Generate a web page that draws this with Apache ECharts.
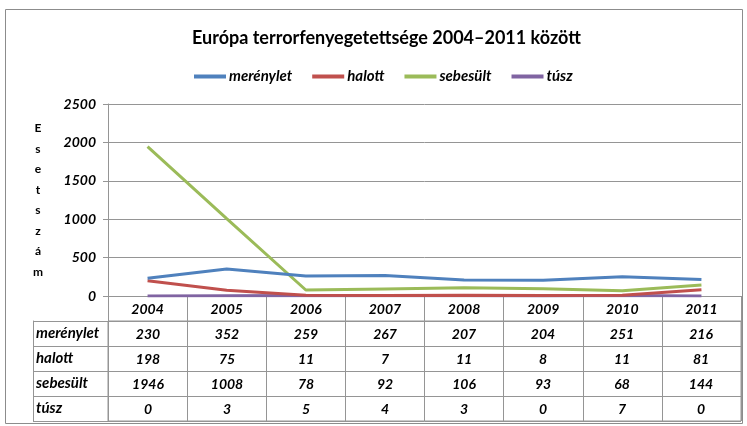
<!DOCTYPE html>
<html>
<head>
<meta charset="utf-8">
<script src="https://cdn.jsdelivr.net/npm/echarts@6/dist/echarts.min.js"></script>
<style>
  html, body { margin: 0; padding: 0; background: #fff; }
  #chart { width: 747px; height: 426px; }
</style>
</head>
<body>
<div id="chart"></div>
<script>
const years = ['2004', '2005', '2006', '2007', '2008', '2009', '2010', '2011'];
const merenylet = [230, 352, 259, 267, 207, 204, 251, 216];
const halott = [198, 75, 11, 7, 11, 8, 11, 81];
const sebesult = [1946, 1008, 78, 92, 106, 93, 68, 144];
const tusz = [0, 3, 5, 4, 3, 0, 7, 0];
const seriesNames = ['merénylet', 'halott', 'sebesült', 'túsz'];
const yTicks = [0, 500, 1000, 1500, 2000, 2500];

const font = 'Lato, "Open Sans", sans-serif';
const gridGray = '#959595';
const colors = ['#4F81BD', '#C0504D', '#9BBB59', '#8064A2'];
const allValues = [merenylet, halott, sebesult, tusz];

// tablazat cellak: [ev index, sor index, ertek]
let cells = [];
allValues.forEach((arr, r) => {
  arr.forEach((v, i) => cells.push([i, r, v]));
});

const chart = echarts.init(document.getElementById('chart'));

const numStyle = { fontFamily: font, fontSize: 14, fontWeight: 'bold', fontStyle: 'italic', color: '#000' };

const option = {
  animation: false,
  color: colors,
  title: {
    text: 'Európa terrorfenyegetettsége 2004–2011 között',
    left: 187,
    top: 24,
    textStyle: { fontFamily: font, fontSize: 18, fontWeight: 'bold', color: '#000' }
  },
  legend: {
    left: 189,
    top: 64,
    icon: 'rect',
    itemWidth: 32,
    itemHeight: 4,
    itemGap: 20,
    textStyle: { fontFamily: font, fontSize: 15, fontWeight: 'bold', fontStyle: 'italic', color: '#000', padding: [0, 0, 0, -2] },
    data: seriesNames
  },
  graphic: [{
    type: 'rect',
    shape: { x: 5.5, y: 9.5, width: 737, height: 414 },
    style: { fill: 'none', stroke: '#8c8c8c', lineWidth: 1 },
    silent: true
  }],
  grid: [
    { left: 108, right: 6, top: 104, bottom: 130 },
    { left: 108, right: 6, top: 321, bottom: 5, show: true, borderColor: gridGray, borderWidth: 1 }
  ],
  xAxis: [{
    type: 'category',
    gridIndex: 0,
    data: years,
    axisLine: { show: true, lineStyle: { color: gridGray } },
    axisTick: { show: true, length: 25, interval: 0, lineStyle: { color: gridGray } },
    axisLabel: Object.assign({ margin: 6 }, numStyle),
    splitLine: { show: false }
  }, {
    type: 'category',
    gridIndex: 1,
    data: years,
    axisLine: { show: false },
    axisTick: { show: false },
    axisLabel: { show: false },
    splitLine: { show: true, interval: 0, lineStyle: { color: gridGray } }
  }],
  yAxis: [{
    type: 'value',
    gridIndex: 0,
    min: 0,
    max: 2500,
    interval: 500,
    name: 'Esetszám'.split('').join('\n'),
    nameLocation: 'middle',
    nameRotate: 0,
    nameGap: 70,
    nameTextStyle: { fontFamily: font, fontSize: 12, fontWeight: 'bold', color: '#000', lineHeight: 20.5, align: 'center', padding: [12, 0, 0, 0] },
    axisLine: { show: true, lineStyle: { color: gridGray } },
    axisTick: { show: true, length: 5, lineStyle: { color: gridGray } },
    axisLabel: Object.assign({
      margin: 12,
      formatter: v => yTicks.includes(v) ? String(v) : ''
    }, numStyle),
    splitLine: { show: true, lineStyle: { color: gridGray } }
  }, {
    type: 'category',
    gridIndex: 1,
    inverse: true,
    data: seriesNames,
    offset: 75,
    axisLine: { show: true, lineStyle: { color: gridGray } },
    axisTick: { show: true, inside: true, length: 75, interval: 0, lineStyle: { color: gridGray } },
    axisLabel: { inside: true, margin: 3, align: 'left', fontFamily: font, fontSize: 15, fontWeight: 'bold', fontStyle: 'italic', color: '#000' },
    splitLine: { show: true, interval: 0, lineStyle: { color: gridGray } }
  }],
  series: [
    ...allValues.map((arr, r) => ({
      name: seriesNames[r],
      type: 'line',
      xAxisIndex: 0,
      yAxisIndex: 0,
      data: arr,
      symbol: 'none',
      lineStyle: { width: 3 },
      z: 3 + (3 - r)
    })),
    {
      type: 'custom',
      xAxisIndex: 1,
      yAxisIndex: 1,
      data: cells,
      silent: true,
      renderItem: function (params, api) {
        const pt = api.coord([api.value(0), api.value(1)]);
        return {
          type: 'text',
          x: Math.round(pt[0]),
          y: Math.round(pt[1]),
          style: {
            text: String(api.value(2)),
            font: 'italic bold 14px Lato, "Open Sans", sans-serif',
            fill: '#000',
            align: 'center',
            verticalAlign: 'middle'
          }
        };
      }
    }
  ]
};

chart.setOption(option);
</script>
</body>
</html>
